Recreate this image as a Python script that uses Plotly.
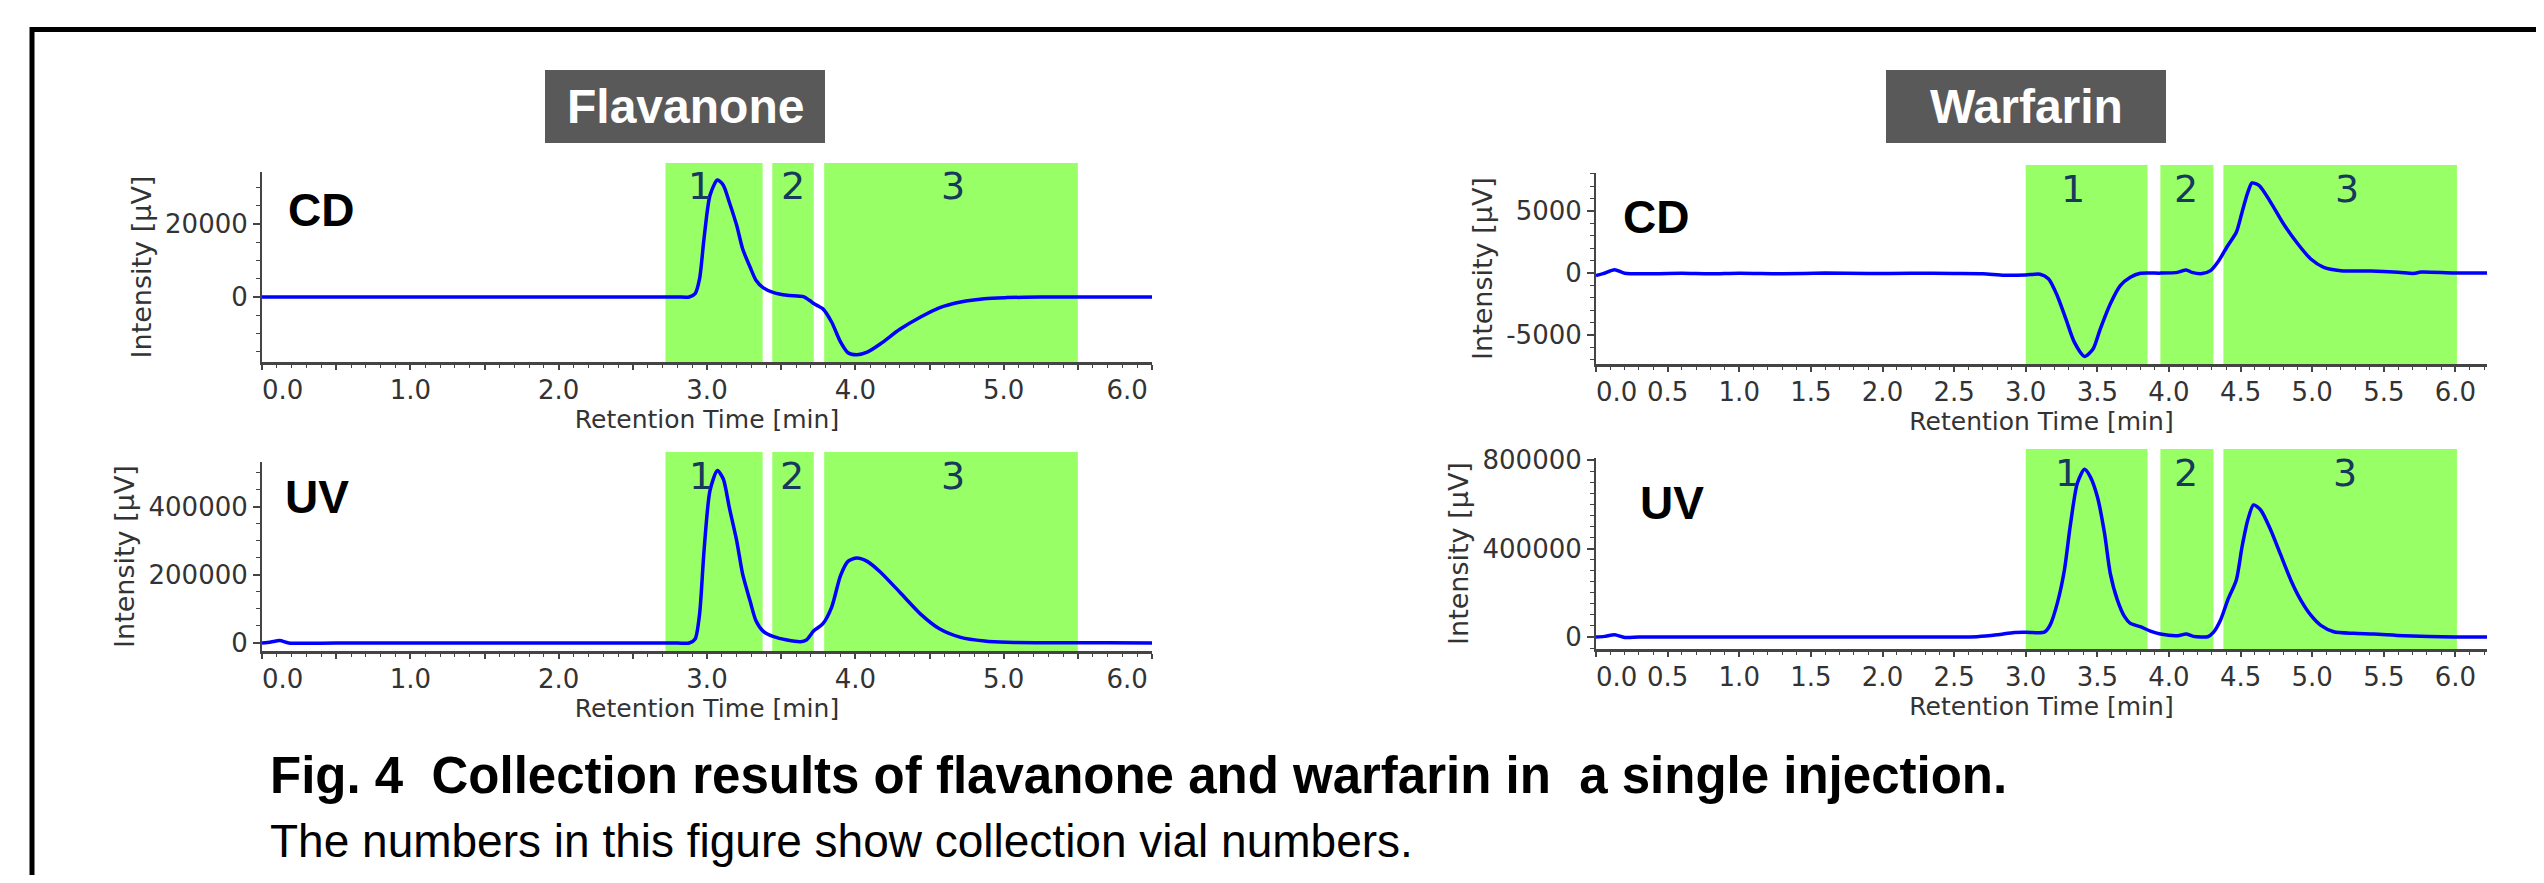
import plotly.graph_objects as go

# ---------------- data ----------------
fla_cd_t = [0.0, 0.5, 1.0, 1.5, 2.0, 2.5, 2.80, 2.88, 2.92, 2.95, 2.98, 3.02, 3.07, 3.11, 3.15, 3.20,
            3.24, 3.29, 3.33, 3.38, 3.45, 3.54, 3.65, 3.69, 3.72, 3.75, 3.78, 3.84, 3.90, 3.95, 4.01,
            4.08, 4.17, 4.30, 4.44, 4.57, 4.71, 4.87, 5.02, 5.25, 5.5, 6.0]
fla_cd_v = [0, 0, 0, 0, 0, 0, 0, 0, 900, 5000, 16000, 27800, 32000, 30600, 26000, 19600,
            13200, 8200, 4600, 2500, 1200, 460, 100, -900, -1800, -2500, -3200, -6850, -12300, -15250, -15800,
            -15100, -12800, -8860, -5480, -2900, -1370, -460, -180, 0, 0, 0]

fla_uv_t = [0.0, 0.06, 0.12, 0.18, 0.5, 1.0, 1.5, 2.0, 2.5, 2.80, 2.88, 2.92, 2.95, 2.98, 3.02, 3.07,
            3.11, 3.15, 3.20, 3.24, 3.29, 3.33, 3.38, 3.45, 3.54, 3.63, 3.67, 3.72, 3.78, 3.84, 3.90,
            3.95, 4.01, 4.08, 4.17, 4.30, 4.44, 4.57, 4.71, 4.87, 5.02, 5.25, 5.70, 6.0]
fla_uv_v = [0, 3000, 7000, 0, 0, 0, 0, 0, 0, 0, 0, 11800, 85000, 271000, 448000, 507000,
            482000, 399000, 301000, 203000, 124000, 65700, 34300, 18600, 8800, 3900, 8800, 36000, 56000, 105000, 198000,
            240000, 250000, 240000, 208000, 149000, 85000, 41000, 16700, 5900, 2000, 1000, 1000, 0]

war_cd_t = [0.0, 0.05, 0.13, 0.2, 0.4, 0.6, 0.8, 1.0, 1.3, 1.6, 1.9, 2.2, 2.5, 2.7, 2.85, 3.0, 3.1,
            3.16, 3.22, 3.28, 3.34, 3.41, 3.47, 3.52, 3.59, 3.66, 3.73, 3.80, 3.94, 4.06, 4.12, 4.16,
            4.23, 4.29, 4.34, 4.41, 4.47, 4.51, 4.55, 4.58, 4.63, 4.71, 4.80, 4.90, 4.99, 5.08, 5.20,
            5.41, 5.60, 5.71, 5.76, 5.99, 6.22]
war_cd_v = [-200, -50, 270, -20, -60, -30, -70, -20, -60, -10, -50, -20, -40, -60, -180, -160, -100,
            -480, -1830, -3700, -5600, -6725, -6130, -4520, -2500, -1020, -350, -20, -10, 50, 240, 50,
            -50, 190, 860, 2200, 3280, 4900, 6500, 7260, 7050, 5700, 3950, 2340, 1130, 460, 190,
            160, 60, -30, 80, 0, 0]

war_uv_t = [0.0, 0.06, 0.13, 0.2, 0.3, 0.5, 1.0, 1.5, 2.0, 2.5, 2.66, 2.8, 2.92, 3.0, 3.13, 3.17,
            3.22, 3.27, 3.31, 3.36, 3.41, 3.45, 3.50, 3.55, 3.59, 3.64, 3.69, 3.73, 3.80, 3.87, 3.94,
            4.06, 4.12, 4.17, 4.27, 4.31, 4.36, 4.41, 4.47, 4.51, 4.55, 4.59, 4.64, 4.71, 4.78, 4.85,
            4.92, 4.99, 5.06, 5.15, 5.29, 5.43, 5.64, 5.99, 6.22]
war_uv_v = [0, 3000, 10000, -2000, 0, 0, 0, 0, 0, 0, 1500, 10000, 21000, 22000, 22000, 54000,
            152000, 303000, 499000, 695000, 758000, 725000, 634000, 469000, 288000, 167000, 92000, 62000, 47000, 27000, 13600,
            6000, 13600, 3000, 1500, 21000, 77000, 167000, 258000, 408000, 529000, 597000, 574000, 484000, 371000, 258000,
            167000, 99000, 53000, 24000, 16600, 13600, 6000, 0, 0]

# collection windows (vial 1, 2, 3)
fla_bands = [(2.72, 3.375), (3.44, 3.72), (3.79, 5.50)]
war_bands = [(3.00, 3.85), (3.94, 4.31), (4.38, 6.01)]
vial_labels = ["1", "2", "3"]
fla_cd_label_x = [2.95, 3.58, 4.66]
fla_uv_label_x = [2.96, 3.57, 4.66]
war_cd_label_x = [3.33, 4.12, 5.24]
war_uv_label_x = [3.29, 4.12, 5.23]

NB = "\u00a0"
fla_x_tickvals = [0.0, 0.5, 1.0, 1.5, 2.0, 2.5, 3.0, 3.5, 4.0, 4.5, 5.0, 5.5, 6.0]
fla_x_ticktext = [NB * 5 + "0.0", "", "1.0", "", "2.0", "", "3.0", "", "4.0", "", "5.0", "", "6.0" + NB * 6]
war_x_tickvals = [0.0, 0.5, 1.0, 1.5, 2.0, 2.5, 3.0, 3.5, 4.0, 4.5, 5.0, 5.5, 6.0]
war_x_ticktext = [NB * 5 + "0.0", "0.5", "1.0", "1.5", "2.0", "2.5", "3.0", "3.5", "4.0", "4.5", "5.0", "5.5", "6.0"]

fla_cd_yticks = [0, 20000]
fla_cd_ytext = ["0", "20000"]
fla_uv_yticks = [0, 200000, 400000]
fla_uv_ytext = ["0", "200000", "400000"]
war_cd_yticks = [-5000, 0, 5000]
war_cd_ytext = ["-5000", "0", "5000"]
war_uv_yticks = [0, 400000, 800000]
war_uv_ytext = ["0", "400000", "800000"]

# ---------------- layout helpers ----------------
# page body keeps its default 8 px margin: keep the figure inside the window
OFF = 8
W, H = 2528, 867


def px_x(p):
    return (p - OFF) / W


def px_y(p):
    return 1 - (p - OFF) / H


panels = [
    dict(t=fla_cd_t, v=fla_cd_v, xd=(262, 1152), yd=(172, 362), yr=[-17800, 34200], xr=[0, 6.0],
         bands=fla_bands, btop=163, lx=fla_cd_label_x, ly=186, ytv=fla_cd_yticks, ytt=fla_cd_ytext,
         ymin=5000, xtv=fla_x_tickvals, xtt=fla_x_ticktext, tag="CD", tagpos=(321, 210)),
    dict(t=fla_uv_t, v=fla_uv_v, xd=(262, 1152), yd=(462, 651), yr=[-23500, 532000], xr=[0, 6.0],
         bands=fla_bands, btop=452, lx=fla_uv_label_x, ly=476, ytv=fla_uv_yticks, ytt=fla_uv_ytext,
         ymin=50000, xtv=fla_x_tickvals, xtt=fla_x_ticktext, tag="UV", tagpos=(317, 497)),
    dict(t=war_cd_t, v=war_cd_v, xd=(1596, 2487), yd=(173, 364), yr=[-7340, 8065], xr=[0, 6.22],
         bands=war_bands, btop=165, lx=war_cd_label_x, ly=189, ytv=war_cd_yticks, ytt=war_cd_ytext,
         ymin=1000, xtv=war_x_tickvals, xtt=war_x_ticktext, tag="CD", tagpos=(1656, 217)),
    dict(t=war_uv_t, v=war_uv_v, xd=(1596, 2487), yd=(458, 649), yr=[-54000, 809000], xr=[0, 6.22],
         bands=war_bands, btop=449, lx=war_uv_label_x, ly=473, ytv=war_uv_yticks, ytt=war_uv_ytext,
         ymin=50000, xtv=war_x_tickvals, xtt=war_x_ticktext, tag="UV", tagpos=(1672, 503)),
]

fig = go.Figure()
shapes = []
annotations = []
layout_axes = {}

tick_font = dict(family="DejaVu Sans", size=26, color="#333333")
axis_col = "#444444"

for i, p in enumerate(panels, start=1):
    xa = "x" if i == 1 else f"x{i}"
    ya = "y" if i == 1 else f"y{i}"
    fig.add_trace(go.Scatter(x=p["t"], y=p["v"], mode="lines", xaxis=xa, yaxis=ya,
                             line=dict(color="#0000ff", width=3.5, shape="spline", smoothing=0.7),
                             hoverinfo="skip", showlegend=False))
    xkey = "xaxis" if i == 1 else f"xaxis{i}"
    ykey = "yaxis" if i == 1 else f"yaxis{i}"
    layout_axes[xkey] = dict(
        domain=[px_x(p["xd"][0]), px_x(p["xd"][1])], anchor=ya, range=p["xr"], automargin=False,
        showline=True, linecolor=axis_col, linewidth=3, showgrid=False, zeroline=False,
        ticks="outside", ticklen=5, tickwidth=1.5, tickcolor=axis_col, ticklabelstandoff=-2,
        tickmode="array", tickvals=p["xtv"], ticktext=p["xtt"], tickfont=tick_font,
        minor=dict(tickmode="linear", tick0=0, dtick=0.1, ticks="outside", ticklen=3,
                   tickcolor=axis_col, tickwidth=1, showgrid=False),
        title=dict(text="Retention Time [min]", font=dict(family="DejaVu Sans", size=25, color="#333333"),
                   standoff=0),
        fixedrange=True,
    )
    layout_axes[ykey] = dict(
        domain=[px_y(p["yd"][1]), px_y(p["yd"][0])], anchor=xa, range=p["yr"], automargin=False,
        showline=True, linecolor=axis_col, linewidth=2, showgrid=False, zeroline=False,
        ticks="outside", ticklen=7, tickwidth=1.5, tickcolor=axis_col,
        tickmode="array", tickvals=p["ytv"], ticktext=p["ytt"], tickfont=tick_font,
        minor=dict(tickmode="linear", tick0=0, dtick=p["ymin"], ticks="outside", ticklen=4,
                   tickcolor=axis_col, tickwidth=1, showgrid=False),
        title=dict(text="Intensity [µV]", font=dict(family="DejaVu Sans", size=27, color="#333333"),
                   standoff=6),
        fixedrange=True,
    )
    for (b0, b1) in p["bands"]:
        shapes.append(dict(type="rect", xref=xa, yref="paper", x0=b0, x1=b1,
                           y0=px_y(p["yd"][1]), y1=px_y(p["btop"]),
                           fillcolor="#99ff66", line=dict(width=0), layer="below"))
    for lab, lxv in zip(vial_labels, p["lx"]):
        annotations.append(dict(text=lab, x=lxv, xref=xa, y=px_y(p["ly"]), yref="paper",
                                showarrow=False, xanchor="center", yanchor="middle",
                                font=dict(family="DejaVu Sans", size=38, color="#16395c")))
    annotations.append(dict(text=p["tag"], x=px_x(p["tagpos"][0]), y=px_y(p["tagpos"][1]),
                            xref="paper", yref="paper", showarrow=False,
                            xanchor="center", yanchor="middle",
                            font=dict(family="Liberation Sans", size=46, color="black", weight="bold")))

for name, (bx0, bx1) in [("Flavanone", (545, 825)), ("Warfarin", (1886, 2166))]:
    shapes.append(dict(type="rect", xref="paper", yref="paper", x0=px_x(bx0), x1=px_x(bx1),
                       y0=px_y(143), y1=px_y(70), fillcolor="#595959", line=dict(width=0)))
    annotations.append(dict(text=name, x=px_x((bx0 + bx1) / 2), y=px_y(107), xref="paper", yref="paper",
                            showarrow=False, xanchor="center", yanchor="middle",
                            font=dict(family="Liberation Sans", size=48, color="white", weight="bold")))

# frame: left and top edges as one open path
fx, fy = px_x(32), px_y(29.5)
shapes.append(dict(type="path", xref="paper", yref="paper",
                   path=f"M {fx},0 L {fx},{fy} L 1,{fy}",
                   line=dict(color="black", width=5)))

annotations.append(dict(text="Fig. 4 " + NB + "Collection results of flavanone and warfarin in " + NB + "a single injection.",
                        x=px_x(268), y=px_y(775), xref="paper", yref="paper", showarrow=False,
                        xanchor="left", yanchor="middle",
                        font=dict(family="Liberation Sans", size=51, color="black", weight="bold")))
annotations.append(dict(text="The numbers in this figure show collection vial numbers.",
                        x=px_x(268), y=px_y(841), xref="paper", yref="paper", showarrow=False,
                        xanchor="left", yanchor="middle",
                        font=dict(family="Liberation Sans", size=46, color="black")))

fig.update_layout(
    width=W, height=H, margin=dict(l=0, r=0, t=0, b=0, autoexpand=False),
    paper_bgcolor="white", plot_bgcolor="white", showlegend=False,
    shapes=shapes, annotations=annotations, **layout_axes,
)

fig.write_html("out.html", config={"displayModeBar": False, "responsive": False})
